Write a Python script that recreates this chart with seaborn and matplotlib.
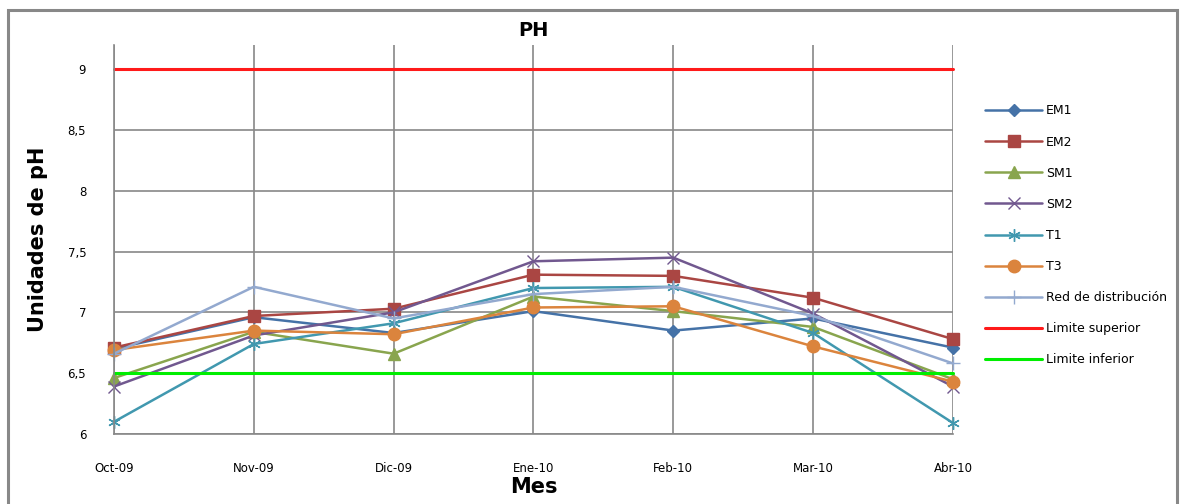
import numpy as np
import pandas as pd
import seaborn as sns
import matplotlib
matplotlib.use("Agg")
import matplotlib.pyplot as plt
from matplotlib.patches import Rectangle

# datos
meses = ['Oct-09', 'Nov-09', 'Dic-09', 'Ene-10', 'Feb-10', 'Mar-10', 'Abr-10']
em1 = [6.70, 6.96, 6.83, 7.01, 6.85, 6.95, 6.71]
em2 = [6.71, 6.97, 7.03, 7.31, 7.30, 7.12, 6.78]
sm1 = [6.46, 6.84, 6.66, 7.13, 7.01, 6.88, 6.45]
sm2 = [6.39, 6.81, 7.00, 7.42, 7.45, 6.99, 6.39]
t1 = [6.10, 6.74, 6.91, 7.20, 7.21, 6.83, 6.09]
t3 = [6.69, 6.85, 6.82, 7.04, 7.05, 6.72, 6.43]
red_dist = [6.66, 7.21, 6.95, 7.15, 7.21, 6.97, 6.58]
lim_sup = [9, 9, 9, 9, 9, 9, 9]
lim_inf = [6.5, 6.5, 6.5, 6.5, 6.5, 6.5, 6.5]

y_ticks = [6, 6.5, 7, 7.5, 8, 8.5, 9]
y_labels = ['6', '6,5', '7', '7,5', '8', '8,5', '9']

series = [
    ('EM1', em1, '#4572A7', 'D', 6),
    ('EM2', em2, '#AA4643', 's', 9),
    ('SM1', sm1, '#89A54E', '^', 8),
    ('SM2', sm2, '#71588F', 'x', 8),
    ('T1', t1, '#4198AF', (6, 2, 0), 9),
    ('T3', t3, '#DB843D', 'o', 9),
    ('Red de distribución', red_dist, '#93A9CF', '+', 10),
    ('Limite superior', lim_sup, '#FF1A1A', None, 0),
    ('Limite inferior', lim_inf, '#00EE00', None, 0),
]

sns.set_style("white")
plt.rcParams['font.family'] = ['DejaVu Sans']
plt.rcParams['text.color'] = 'black'
plt.rcParams['axes.labelcolor'] = 'black'
plt.rcParams['xtick.color'] = 'black'
plt.rcParams['ytick.color'] = 'black'

fig = plt.figure(figsize=(11.8, 5.04), dpi=100)
ax = fig.add_axes([0.0966, 0.139, 0.711, 0.772])

x = np.arange(len(meses))
for nombre, vals, col, mk, ms in series:
    lw = 2.2 if mk is None else 1.8
    sns.lineplot(x=x, y=vals, ax=ax, color=col, marker=mk, markersize=ms,
                 markeredgecolor=col, markeredgewidth=1.0, linewidth=lw,
                 label=nombre, clip_on=False)

ax.set_xlim(0, 6)
ax.set_ylim(6, 9.2)
ax.set_xticks(x)
ax.set_xticklabels(meses, fontsize=8.5)
ax.set_yticks(y_ticks)
ax.set_yticklabels(y_labels, fontsize=8.5)
ax.tick_params(axis='x', length=0, pad=20)
ax.tick_params(axis='y', length=0, pad=20)
ax.grid(True, color='#888888', linewidth=1.2)
ax.set_axisbelow(True)
for s in ['top', 'right']:
    ax.spines[s].set_visible(False)
for s in ['left', 'bottom']:
    ax.spines[s].set_color('#888888')
    ax.spines[s].set_linewidth(1.2)

ax.set_title('PH', fontsize=14, fontweight='bold', pad=6.5)
ax.set_xlabel('Mes', fontsize=15, fontweight='bold', labelpad=2)
ax.set_ylabel('Unidades de pH', fontsize=15, fontweight='bold', labelpad=14)

ax.legend(loc='upper left', bbox_to_anchor=(0.825, 0.815),
          bbox_transform=fig.transFigure, frameon=False, fontsize=9,
          handlelength=4.6, labelspacing=1.45, handletextpad=0.3)

# marco del grafico
fig.patches.append(Rectangle((8 / 1180, -0.02), 1169 / 1180, 1.0 - 10 / 504 + 0.02,
                             transform=fig.transFigure, fill=False,
                             edgecolor='#888888', linewidth=2.2))

fig.savefig('out.png', dpi=100)
